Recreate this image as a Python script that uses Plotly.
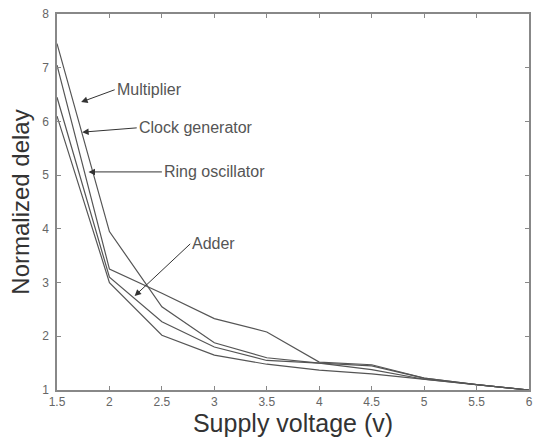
import plotly.graph_objects as go

voltage = [1.5, 2.0, 2.5, 3.0, 3.5, 4.0, 4.5, 5.0, 5.5, 6.0]
multiplier = [7.45, 3.95, 2.55, 1.88, 1.60, 1.50, 1.45, 1.22, 1.10, 1.00]
clock_generator = [7.05, 3.25, 2.80, 2.33, 2.08, 1.52, 1.47, 1.22, 1.10, 1.00]
adder = [6.45, 3.10, 2.27, 1.80, 1.55, 1.50, 1.38, 1.20, 1.10, 1.00]
ring_oscillator = [6.10, 3.00, 2.02, 1.65, 1.48, 1.37, 1.30, 1.20, 1.10, 1.00]

series = {
    "Multiplier": multiplier,
    "Clock generator": clock_generator,
    "Adder": adder,
    "Ring oscillator": ring_oscillator,
}

x_ticks = [1.5, 2, 2.5, 3, 3.5, 4, 4.5, 5, 5.5, 6]
x_tick_text = ["1.5", "2", "2.5", "3", "3.5", "4", "4.5", "5", "5.5", "6"]
y_ticks = [1, 2, 3, 4, 5, 6, 7, 8]

# annotations: label, tip (x, y), tail (x, y)
labels = ["Multiplier", "Clock generator", "Ring oscillator", "Adder"]
tip_x = [1.73, 1.74, 1.80, 2.24]
tip_y = [6.36, 5.80, 5.06, 2.75]
tail_x = [2.05, 2.26, 2.50, 2.77]
tail_y = [6.59, 5.88, 5.06, 3.72]

FONT = "Liberation Sans, Arial, sans-serif"

fig = go.Figure()
for name, vals in series.items():
    fig.add_trace(go.Scatter(x=voltage, y=vals, mode="lines", name=name,
                             line=dict(color="#555555", width=1.2)))

for lab, tx, ty, ax, ay in zip(labels, tip_x, tip_y, tail_x, tail_y):
    fig.add_annotation(x=tx, y=ty, ax=ax, ay=ay, axref="x", ayref="y",
                       xref="x", yref="y", text=lab, showarrow=True,
                       arrowhead=2, arrowsize=1.3, arrowwidth=1,
                       arrowcolor="#333", xanchor="left", yanchor="middle",
                       font=dict(family=FONT, size=16, color="#555"))

axis_common = dict(showline=True, linecolor="#888", linewidth=1.5, mirror="allticks",
                   ticks="inside", ticklen=4, tickcolor="#888", showgrid=False,
                   zeroline=False,
                   tickfont=dict(family=FONT, size=12, color="#666"))

fig.update_layout(
    width=535, height=441,
    margin=dict(l=57, r=2, t=14, b=51),
    paper_bgcolor="white", plot_bgcolor="white",
    showlegend=False,
    xaxis=dict(range=[1.5, 6], tickvals=x_ticks, ticktext=x_tick_text,
               ticklabelstandoff=0,
               title=dict(text="Supply voltage (v)", standoff=0,
                          font=dict(family=FONT, size=25, color="#333")),
               **axis_common),
    yaxis=dict(range=[1, 8], tickvals=y_ticks, ticklabelstandoff=4,
               title=dict(text="Normalized delay", standoff=6,
                          font=dict(family=FONT, size=24, color="#333")),
               **axis_common),
)

fig.write_html("out.html")
